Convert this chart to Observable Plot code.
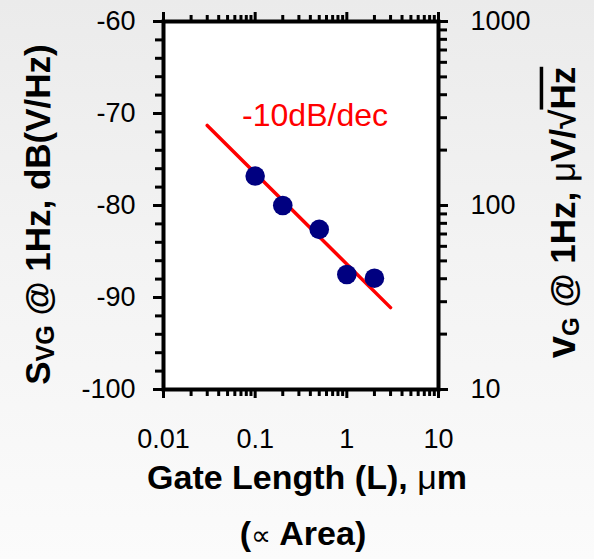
<!DOCTYPE html>
<html><head><meta charset="utf-8">
<script src="https://cdn.jsdelivr.net/npm/d3@7"></script>
<script src="https://cdn.jsdelivr.net/npm/@observablehq/plot@0.6"></script>
<style>
html,body{margin:0;padding:0;}
body{width:594px;height:559px;overflow:hidden;background:linear-gradient(180deg,#ebebeb 0%,#f3f3f3 45%,#fbfbfb 100%);}
#chart svg{display:block;}
</style></head><body><div id="chart"></div>
<script>
// ---- data ----
const gateLength = [0.1, 0.2, 0.5, 1, 2];              // µm
const noiseDb    = [-76.8, -80.0, -82.6, -87.5, -87.9]; // dB(V²/Hz) @ 1Hz
const fitLength  = [0.03, 3];
const fitDb      = [-71.3, -91.1];
const slopeLabel = "-10dB/dec";

const xMajorTicks = [0.01, 0.1, 1, 10];
const xMinorTicks = [0.02,0.03,0.04,0.05,0.06,0.07,0.08,0.09,0.2,0.3,0.4,0.5,0.6,0.7,0.8,0.9,2,3,4,5,6,7,8,9];
const yMajorTicks = [-100, -90, -80, -70, -60];
const yMinorTicks = [-98,-96,-94,-92,-88,-86,-84,-82,-78,-76,-74,-72,-68,-66,-64,-62];
const vgMajorTicks = [10, 100, 1000];                   // µV/√Hz
const vgMinorTicks = [20,30,40,50,60,70,80,90,200,300,400,500,600,700,800,900];

const xTitle1 = "Gate Length (L), µm";
const xTitle2 = "(∝ Area)";
const yTitleLeft = "SVG @ 1Hz, dB(V/Hz)";
const yTitleRight = "vG @ 1Hz, μV/√Hz";

// right axis (µV/√Hz) expressed on the left dB scale: S = 20·log10(v·1e-6)
const toDb = v => 20 * Math.log10(v) - 120;

const font = "'Liberation Sans', Arial, Helvetica, sans-serif";
const tickW = 3;

const plot = Plot.plot({
  width: 594, height: 559,
  marginLeft: 163, marginRight: 156, marginTop: 21, marginBottom: 170,
  style: {background: "transparent", fontFamily: font, fontSize: "27px", color: "black", overflow: "visible"},
  x: {type: "log", domain: [0.01, 10], label: null},
  y: {domain: [-100, -60], label: null},
  marks: [
    Plot.frame({fill: "white", stroke: null}),
    // bottom axis
    Plot.axisX(xMinorTicks, {anchor: "bottom", tickSize: 7, strokeWidth: tickW, tickFormat: () => "", label: null}),
    Plot.axisX(xMajorTicks, {anchor: "bottom", tickSize: 9, tickPadding: 30, strokeWidth: tickW, tickFormat: d => String(d), label: null}),
    // top axis (ticks only)
    Plot.axisX(xMinorTicks, {anchor: "top", tickSize: 7, strokeWidth: tickW, tickFormat: () => "", label: null}),
    Plot.axisX(xMajorTicks, {anchor: "top", tickSize: 10, strokeWidth: tickW, tickFormat: () => "", label: null}),
    // left axis
    Plot.axisY(yMinorTicks, {anchor: "left", tickSize: 8, strokeWidth: tickW, tickFormat: () => "", label: null}),
    Plot.axisY(yMajorTicks, {anchor: "left", tickSize: 10, tickPadding: 18, strokeWidth: tickW, tickFormat: d => String(d), label: null}),
    // right axis (log µV/√Hz)
    Plot.axisY(vgMinorTicks.map(toDb), {anchor: "right", tickSize: 8, strokeWidth: tickW, tickFormat: () => "", label: null}),
    Plot.axisY(vgMajorTicks.map(toDb), {anchor: "right", tickSize: 9, tickPadding: 23, strokeWidth: tickW,
      tickFormat: d => String(Math.round(Math.pow(10, (d + 120) / 20))), label: null}),
    Plot.frame({stroke: "black", strokeWidth: 4}),
    // fit line
    Plot.line(fitLength.map((x, i) => ({x, y: fitDb[i]})), {x: "x", y: "y", stroke: "#ff0000", strokeWidth: 3.5}),
    // data
    Plot.dot(gateLength.map((x, i) => ({x, y: noiseDb[i]})), {x: "x", y: "y", r: 9.8, fill: "#000080", stroke: null}),
    // annotation
    Plot.text([slopeLabel], {x: () => 0.45, y: () => -70.2, text: d => d, fill: "#ff0000", fontSize: 32}),
    // titles
    Plot.text([xTitle1], {text: d => d, frameAnchor: "bottom", textAnchor: "middle", dx: 6, dy: 99, fontSize: 34, fontWeight: "bold"}),
    Plot.text([xTitle2], {text: d => d, frameAnchor: "bottom", textAnchor: "middle", dx: 2, dy: 155, fontSize: 34, fontWeight: "bold"}),
    Plot.text([yTitleLeft], {text: d => d, frameAnchor: "left", textAnchor: "middle", rotate: -90, dx: -125, dy: 9, fontSize: 35, fontWeight: "bold"}),
    Plot.text([yTitleRight], {text: d => d, frameAnchor: "right", textAnchor: "middle", rotate: -90, dx: 125, dy: 7, fontSize: 35, fontWeight: "bold"})
  ]
});

document.getElementById("chart").appendChild(plot);

// rich text (subscripts, overline, symbol glyphs) on the title texts
const NS = "http://www.w3.org/2000/svg";
function rich(str, parts) {
  d3.select(plot).selectAll("text").filter(function() { return this.textContent === str; }).each(function() {
    this.textContent = "";
    for (const p of parts) {
      const t = document.createElementNS(NS, "tspan");
      t.textContent = p.t;
      if (p.size) t.setAttribute("font-size", p.size);
      if (p.dy) t.setAttribute("dy", p.dy);
      if (p.weight) t.setAttribute("font-weight", p.weight);
      if (p.over) t.setAttribute("text-decoration", "overline");
      this.appendChild(t);
    }
  });
}
rich(yTitleLeft, [{t: "S"}, {t: "VG", size: 25, dy: 4}, {t: " @ 1Hz, dB(V/Hz)", dy: -4}]);
rich(yTitleRight, [{t: "v", size: 40}, {t: "G", size: 24, dy: 4}, {t: " @ 1Hz, ", dy: -4}, {t: "μ", weight: "normal"}, {t: "V/√"}, {t: "Hz", over: true}]);
rich(xTitle1, [{t: "Gate Length (L), "}, {t: "μ", weight: "normal"}, {t: "m"}]);
rich(xTitle2, [{t: "("}, {t: "∝", weight: "normal", size: 28}, {t: " Area)"}]);
</script></body></html>
